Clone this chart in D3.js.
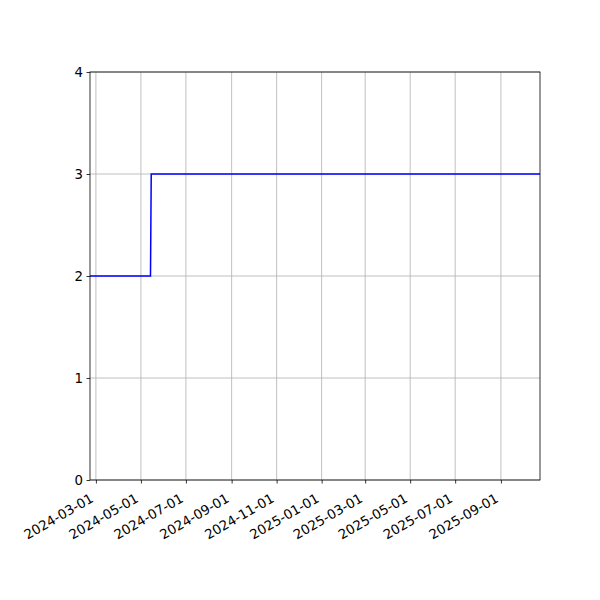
<!DOCTYPE html>
<html>
<head>
<meta charset="utf-8">
<script src="https://cdn.jsdelivr.net/npm/d3@7"></script>
<style>
  body { margin: 0; background: #fff; }
  svg text { font-family: 'DejaVu Sans', sans-serif; font-size: 13.3px; fill: #000; }
</style>
</head>
<body>
<div id="chart"></div>
<script>
// step series: date, value
const dates = ['2024-02-22', '2024-05-14', '2024-05-15', '2025-10-24'];
const values = [2, 2, 3, 3];
const xTicks = ['2024-03-01', '2024-05-01', '2024-07-01', '2024-09-01', '2024-11-01',
  '2025-01-01', '2025-03-01', '2025-05-01', '2025-07-01', '2025-09-01'];
const yTicks = [0, 1, 2, 3, 4];

const parse = d3.utcParse('%Y-%m-%d');
const fmt = d3.utcFormat('%Y-%m-%d');
const data = dates.map((d, i) => ({ date: parse(d), value: values[i] }));

const width = 600;
const height = 600;
const margin = { top: 72, right: 60, bottom: 120, left: 90 };
const innerWidth = width - margin.left - margin.right;
const innerHeight = height - margin.top - margin.bottom;

const svg = d3.select('#chart')
  .append('svg')
  .attr('width', width)
  .attr('height', height);

const g = svg.append('g').attr('transform', `translate(${margin.left},${margin.top})`);

const x = d3.scaleUtc()
  .domain(d3.extent(data, (d) => d.date))
  .range([0, innerWidth]);

const y = d3.scaleLinear().domain([0, 4]).range([innerHeight, 0]);

// grid
g.append('g')
  .selectAll('line')
  .data(xTicks.map(parse))
  .enter()
  .append('line')
  .attr('x1', (d) => x(d))
  .attr('x2', (d) => x(d))
  .attr('y1', 0)
  .attr('y2', innerHeight)
  .attr('stroke', '#b0b0b0')
  .attr('stroke-width', 0.8);

g.append('g')
  .selectAll('line')
  .data(yTicks)
  .enter()
  .append('line')
  .attr('x1', 0)
  .attr('x2', innerWidth)
  .attr('y1', (d) => y(d))
  .attr('y2', (d) => y(d))
  .attr('stroke', '#b0b0b0')
  .attr('stroke-width', 0.8);

// line
const line = d3.line()
  .x((d) => x(d.date))
  .y((d) => y(d.value));

g.append('path')
  .datum(data)
  .attr('d', line)
  .attr('fill', 'none')
  .attr('stroke', '#0000ff')
  .attr('stroke-width', 1.5);

// frame
g.append('rect')
  .attr('width', innerWidth)
  .attr('height', innerHeight)
  .attr('fill', 'none')
  .attr('stroke', '#000')
  .attr('stroke-width', 0.8);

// axes
const xAxis = d3.axisBottom(x)
  .tickValues(xTicks.map(parse))
  .tickFormat(fmt)
  .tickSize(3.5)
  .tickPadding(3.5);

const xg = g.append('g')
  .attr('transform', `translate(0,${innerHeight})`)
  .call(xAxis);
xg.selectAll('text')
  .attr('text-anchor', 'end')
  .attr('x', 0)
  .attr('y', 0)
  .attr('dy', 0)
  .attr('transform', 'translate(-2,21) rotate(-30)');

const yAxis = d3.axisLeft(y)
  .tickValues(yTicks)
  .tickFormat(d3.format('d'))
  .tickSize(3.5)
  .tickPadding(3.5);
g.append('g').call(yAxis);

g.selectAll('.domain').remove();
g.selectAll('.tick line').attr('stroke', '#000').attr('stroke-width', 0.8);
g.selectAll('.tick text').style('font-family', "'DejaVu Sans', sans-serif").style('font-size', '13.3px');
</script>
</body>
</html>
